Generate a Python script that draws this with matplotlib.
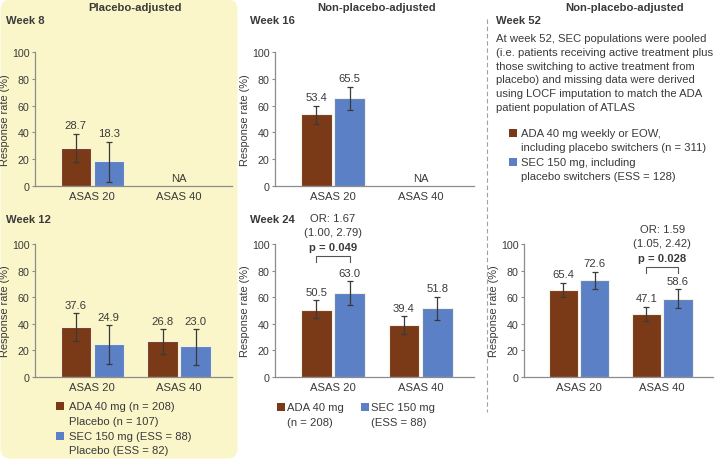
import numpy as np
import matplotlib.pyplot as plt
from matplotlib.patches import FancyBboxPatch, Rectangle

plt.rcParams['font.family'] = ['Liberation Sans', 'DejaVu Sans']

# ---------------- data ----------------
categories = ['ASAS 20', 'ASAS 40']
nan = np.nan

# week 8 (placebo-adjusted, ASAS 40 not available)
w8_ada, w8_ada_lo, w8_ada_hi = [28.7, nan], [18.0, nan], [39.0, nan]
w8_sec, w8_sec_lo, w8_sec_hi = [18.3, nan], [3.0, nan], [33.0, nan]
# week 12 (placebo-adjusted)
w12_ada, w12_ada_lo, w12_ada_hi = [37.6, 26.8], [27.0, 17.0], [48.0, 36.0]
w12_sec, w12_sec_lo, w12_sec_hi = [24.9, 23.0], [10.0, 9.0], [39.0, 36.0]
# week 16 (non-placebo-adjusted)
w16_ada, w16_ada_lo, w16_ada_hi = [53.4, nan], [46.0, nan], [60.0, nan]
w16_sec, w16_sec_lo, w16_sec_hi = [65.5, nan], [57.0, nan], [74.0, nan]
# week 24 (non-placebo-adjusted)
w24_ada, w24_ada_lo, w24_ada_hi = [50.5, 39.4], [44.3, 32.2], [57.8, 45.7]
w24_sec, w24_sec_lo, w24_sec_hi = [63.0, 51.8], [54.5, 43.0], [72.0, 60.5]
# week 52 (non-placebo-adjusted)
w52_ada, w52_ada_lo, w52_ada_hi = [65.4, 47.1], [60.0, 42.0], [71.0, 53.0]
w52_sec, w52_sec_lo, w52_sec_hi = [72.6, 58.6], [66.0, 52.0], [79.0, 66.0]

w24_or = ['OR: 1.67', '(1.00, 2.79)', 'p = 0.049']
w52_or = ['OR: 1.59', '(1.05, 2.42)', 'p = 0.028']

# ---------------- style ----------------
ADA = '#7A3A18'
SEC = '#5B80C5'
TXT = '#3A3A3A'
AX = '#8C8C8C'
YEL = '#FAF6CA'
FS = 8.1
W, H = 719, 460

fig = plt.figure(figsize=(W / 100, H / 100), dpi=100)
fig.patch.set_facecolor('white')

# background axes in pixel coordinates
bg = fig.add_axes([0, 0, 1, 1])
bg.set_xlim(0, W)
bg.set_ylim(H, 0)
bg.axis('off')
bg.add_patch(FancyBboxPatch((0.5, 0.5), 237, 459, boxstyle='round,pad=0,rounding_size=10',
                            fc=YEL, ec='none'))
bg.plot([487, 487], [20, 413], color='#A0A0A0', lw=0.8, ls=(0, (4, 2.5)))


def txt(x, y, s, **kw):
    kw.setdefault('fontsize', FS)
    kw.setdefault('color', TXT)
    kw.setdefault('va', 'center')
    bg.text(x, y, s, **kw)


def square(x, y, c):
    bg.add_patch(Rectangle((x, y), 7.5, 7.5, fc=c, ec='none'))


def panel(rect, ada, ada_lo, ada_hi, sec, sec_lo, sec_hi):
    l, t, w, h = rect
    ax = fig.add_axes([l / W, 1 - (t + h) / H, w / W, h / H])
    ax.set_facecolor('none')
    x = np.arange(len(categories))
    for vals, lo, hi, off, c in [(ada, ada_lo, ada_hi, -0.19, ADA),
                                 (sec, sec_lo, sec_hi, 0.19, SEC)]:
        vals, lo, hi = np.array(vals), np.array(lo), np.array(hi)
        ok = ~np.isnan(vals)
        xs = x[ok] + off
        ax.bar(xs, vals[ok], width=0.35, color=c, edgecolor='#F4F0E2', linewidth=0.8, zorder=2)
        ax.errorbar(xs, vals[ok], yerr=[vals[ok] - lo[ok], hi[ok] - vals[ok]], fmt='none',
                    ecolor=TXT, elinewidth=0.9, capsize=2.5, capthick=0.9, zorder=3)
        for xi, v, hv in zip(xs, vals[ok], hi[ok]):
            ax.annotate(f'{v:.1f}', (xi, hv), xytext=(0, 2.5), textcoords='offset points',
                        ha='center', va='bottom', fontsize=FS, color=TXT)
    for i in x:
        if np.isnan(ada[i]) and np.isnan(sec[i]):
            ax.annotate('NA', (i, 0), xytext=(0, 2), textcoords='offset points',
                        ha='center', va='bottom', fontsize=FS, color=TXT)
    ax.set_xlim(-0.66, 1.61)
    ax.set_ylim(0, 100)
    ax.set_yticks(range(0, 101, 20))
    ax.set_xticks(x)
    ax.set_xticklabels(categories)
    for s in ['top', 'right']:
        ax.spines[s].set_visible(False)
    for s in ['left', 'bottom']:
        ax.spines[s].set_color(AX)
        ax.spines[s].set_linewidth(0.9)
    ax.tick_params(axis='x', length=0, pad=3.5, labelsize=FS, labelcolor=TXT)
    ax.tick_params(axis='y', length=2.5, width=0.8, color=AX, pad=1.5, labelsize=7.7,
                   labelcolor=TXT)
    ax.set_ylabel('Response rate (%)', fontsize=7.9, color=TXT, labelpad=1.5)
    return ax


def bracket(ax, xc, y, lines):
    x0, x1 = xc - 0.19, xc + 0.19
    ax.plot([x0, x0, x1, x1], [y - 4.5, y, y, y - 4.5], color='#555555', lw=0.8,
            clip_on=False)
    ax.text(xc, y + 6.7, lines[2], ha='center', va='center', fontsize=FS,
            fontweight='bold', color=TXT, clip_on=False)
    ax.text(xc, y + 18, lines[1], ha='center', va='center', fontsize=FS, color=TXT,
            clip_on=False)
    ax.text(xc, y + 28.5, lines[0], ha='center', va='center', fontsize=FS, color=TXT,
            clip_on=False)


panel((35, 53, 197, 134), w8_ada, w8_ada_lo, w8_ada_hi, w8_sec, w8_sec_lo, w8_sec_hi)
panel((35, 245, 197, 133), w12_ada, w12_ada_lo, w12_ada_hi, w12_sec, w12_sec_lo, w12_sec_hi)
panel((275, 53, 199, 134), w16_ada, w16_ada_lo, w16_ada_hi, w16_sec, w16_sec_lo, w16_sec_hi)
ax24 = panel((275, 245, 199, 133), w24_ada, w24_ada_lo, w24_ada_hi, w24_sec, w24_sec_lo,
             w24_sec_hi)
ax52 = panel((524, 245, 189, 133), w52_ada, w52_ada_lo, w52_ada_hi, w52_sec, w52_sec_lo,
             w52_sec_hi)
bracket(ax24, 0, 91, w24_or)
bracket(ax52, 1, 82.7, w52_or)

# headers
txt(135, 8, 'Placebo-adjusted', fontweight='bold', ha='center')
txt(377, 8, 'Non-placebo-adjusted', fontweight='bold', ha='center')
txt(625, 8, 'Non-placebo-adjusted', fontweight='bold', ha='center')
txt(6, 21, 'Week 8', fontweight='bold')
txt(6, 220, 'Week 12', fontweight='bold')
txt(250, 21, 'Week 16', fontweight='bold')
txt(250, 220, 'Week 24', fontweight='bold')
txt(496, 21, 'Week 52', fontweight='bold')

note = ['At week 52, SEC populations were pooled',
        '(i.e. patients receiving active treatment plus',
        'those switching to active treatment from',
        'placebo) and missing data were derived',
        'using LOCF imputation to match the ADA',
        'patient population of ATLAS']
for i, s in enumerate(note):
    txt(496, 39 + i * 13.8, s)

# legends
square(56, 403, ADA)
txt(69, 407, 'ADA 40 mg (n = 208)')
txt(69, 422, 'Placebo (n = 107)')
square(56, 433, SEC)
txt(69, 437, 'SEC 150 mg (ESS = 88)')
txt(69, 451, 'Placebo (ESS = 82)')

square(277, 404, ADA)
txt(287, 408, 'ADA 40 mg')
txt(287, 423, '(n = 208)')
square(361, 404, SEC)
txt(371, 408, 'SEC 150 mg')
txt(371, 423, '(ESS = 88)')

square(509, 130, ADA)
txt(521, 134, 'ADA 40 mg weekly or EOW,')
txt(521, 148, 'including placebo switchers (n = 311)')
square(509, 159, SEC)
txt(521, 163, 'SEC 150 mg, including')
txt(521, 177, 'placebo switchers (ESS = 128)')

fig.savefig('out.png', dpi=100)
